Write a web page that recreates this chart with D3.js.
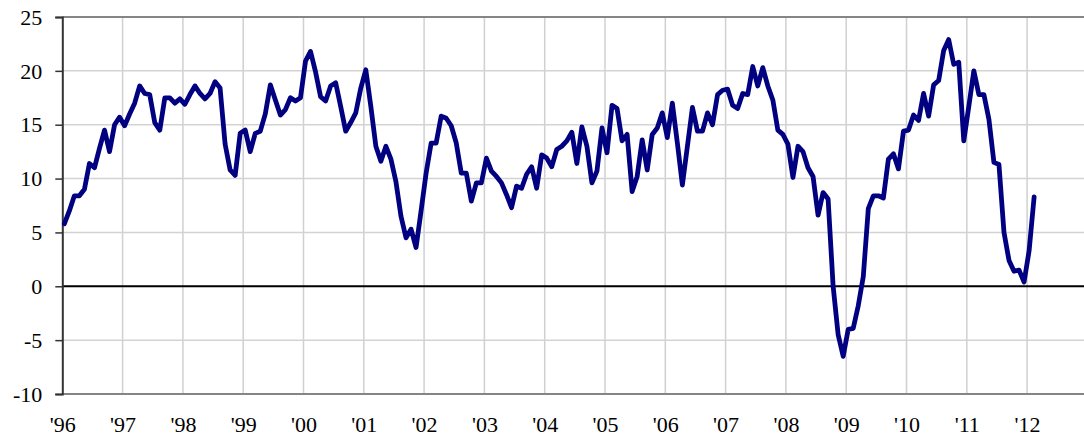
<!DOCTYPE html>
<html>
<head>
<meta charset="utf-8">
<script src="https://cdn.jsdelivr.net/npm/d3@7"></script>
<style>
  html, body { margin: 0; padding: 0; background: #fff; }
  svg { display: block; }
  text { font-family: "Liberation Serif", "Times New Roman", serif; font-size: 22px; fill: #000; }
</style>
</head>
<body>
<svg id="chart" width="1084" height="437"></svg>
<script>
// Monthly series starting January 1996
const startYear = 1996;
const values = [
  5.8, 7.0, 8.4, 8.4, 9.0, 11.4, 11.0, 12.8, 14.5, 12.5, 15.0, 15.7,
  14.9, 16.0, 17.0, 18.6, 17.9, 17.8, 15.2, 14.5, 17.5, 17.5, 17.0, 17.4,
  16.9, 17.8, 18.6, 17.9, 17.4, 17.9, 19.0, 18.4, 13.2, 10.8, 10.3, 14.2,
  14.5, 12.5, 14.2, 14.4, 16.0, 18.7, 17.3, 15.9, 16.4, 17.5, 17.2, 17.5,
  20.9, 21.8, 19.9, 17.6, 17.2, 18.6, 18.9, 16.7, 14.4, 15.2, 16.1, 18.4,
  20.1, 16.7, 13.0, 11.6, 13.0, 11.8, 9.7, 6.5, 4.5, 5.3, 3.6, 7.0,
  10.5, 13.3, 13.3, 15.8, 15.6, 14.9, 13.3, 10.5, 10.5, 7.9, 9.6, 9.6,
  11.9, 10.7, 10.2, 9.6, 8.5, 7.3, 9.3, 9.1, 10.4, 11.1, 9.1, 12.2,
  11.9, 11.1, 12.7, 13.0, 13.5, 14.3, 11.4, 14.8, 13.0, 9.6, 10.7, 14.7,
  12.4, 16.8, 16.5, 13.5, 14.1, 8.8, 10.2, 13.6, 10.8, 14.1, 14.7, 16.1,
  13.8, 17.0, 13.3, 9.4, 13.0, 16.6, 14.4, 14.4, 16.1, 15.0, 17.8, 18.2,
  18.3, 16.8, 16.5, 17.9, 17.8, 20.4, 18.6, 20.3, 18.6, 17.3, 14.5, 14.1,
  13.2, 10.1, 13.0, 12.5, 11.0, 10.2, 6.6, 8.7, 8.1, 0.0, -4.5, -6.5,
  -4.0, -3.9, -1.8, 0.9, 7.2, 8.4, 8.4, 8.2, 11.8, 12.3, 10.9, 14.4,
  14.5, 15.9, 15.4, 17.9, 15.8, 18.7, 19.1, 21.9, 22.9, 20.6, 20.8, 13.5,
  16.7, 20.0, 17.8, 17.8, 15.5, 11.5, 11.3, 5.0, 2.4, 1.4, 1.5, 0.4,
  3.3, 8.3
];
const yTicks = [-10, -5, 0, 5, 10, 15, 20, 25];
const yTickLabels = ["-10", "-5", "0", "5", "10", "15", "20", "25"];
const xTickYears = [1996, 1997, 1998, 1999, 2000, 2001, 2002, 2003, 2004, 2005, 2006, 2007, 2008, 2009, 2010, 2011, 2012];
const xTickLabels = ["'96", "'97", "'98", "'99", "'00", "'01", "'02", "'03", "'04", "'05", "'06", "'07", "'08", "'09", "'10", "'11", "'12"];

(function () {
const svg = d3.select("#chart");
const plotLeft = 62.3, plotTop = 17, plotBottom = 394;
const x = d3.scaleLinear().domain([1996, 2013]).range([plotLeft, plotLeft + 17 * 60.3]);
const y = d3.scaleLinear().domain([-10, 25]).range([plotBottom, plotTop]);

const g = svg.append("g");

// vertical gridlines
g.selectAll(".vgrid").data(xTickYears.slice(1).concat([2013])).enter().append("line")
  .attr("x1", d => x(d)).attr("x2", d => x(d))
  .attr("y1", plotTop).attr("y2", plotBottom)
  .attr("stroke", "#d0d0d0").attr("stroke-width", 1.5);

// horizontal gridlines
g.selectAll(".hgrid").data(yTicks.filter(d => d !== 0 && d !== -10 && d !== 25)).enter().append("line")
  .attr("x1", plotLeft).attr("x2", 1084)
  .attr("y1", d => y(d)).attr("y2", d => y(d))
  .attr("stroke", "#d3d3d3").attr("stroke-width", 1.5);

// top border
g.append("line").attr("x1", plotLeft).attr("x2", 1084).attr("y1", y(25)).attr("y2", y(25))
  .attr("stroke", "#858585").attr("stroke-width", 2);
// bottom axis
g.append("line").attr("x1", plotLeft).attr("x2", 1084).attr("y1", y(-10)).attr("y2", y(-10))
  .attr("stroke", "#858585").attr("stroke-width", 2);
// zero line
g.append("line").attr("x1", plotLeft).attr("x2", 1084).attr("y1", y(0)).attr("y2", y(0))
  .attr("stroke", "#000").attr("stroke-width", 2);

// left axis
const yAxis = d3.axisLeft(y).tickValues(yTicks).tickSize(7).tickPadding(13)
  .tickFormat((d, i) => yTickLabels[i]);
const ya = svg.append("g").attr("transform", `translate(${plotLeft},0)`).call(yAxis);
ya.select(".domain").attr("stroke", "#333").attr("stroke-width", 2);
ya.selectAll(".tick line").attr("stroke", "#333").attr("stroke-width", 1.5);
ya.selectAll(".tick text").attr("font-size", null).attr("font-family", null).attr("dy", "0.33em");

// x axis labels
const xAxis = d3.axisBottom(x).tickValues(xTickYears).tickSize(0).tickPadding(0)
  .tickFormat((d, i) => xTickLabels[i]);
const xa = svg.append("g").attr("transform", `translate(0,${plotBottom})`).call(xAxis);
xa.select(".domain").remove();
xa.selectAll(".tick text").attr("font-size", null).attr("font-family", null).attr("dy", null).attr("y", 38);

// series line
const line = d3.line()
  .x((d, i) => x(startYear + (i + 0.4) / 12))
  .y(d => y(d));
svg.append("path").datum(values)
  .attr("d", line)
  .attr("fill", "none")
  .attr("stroke", "#000080")
  .attr("stroke-width", 4.8)
  .attr("stroke-linejoin", "round")
  .attr("stroke-linecap", "round");
})();
</script>
</body>
</html>
